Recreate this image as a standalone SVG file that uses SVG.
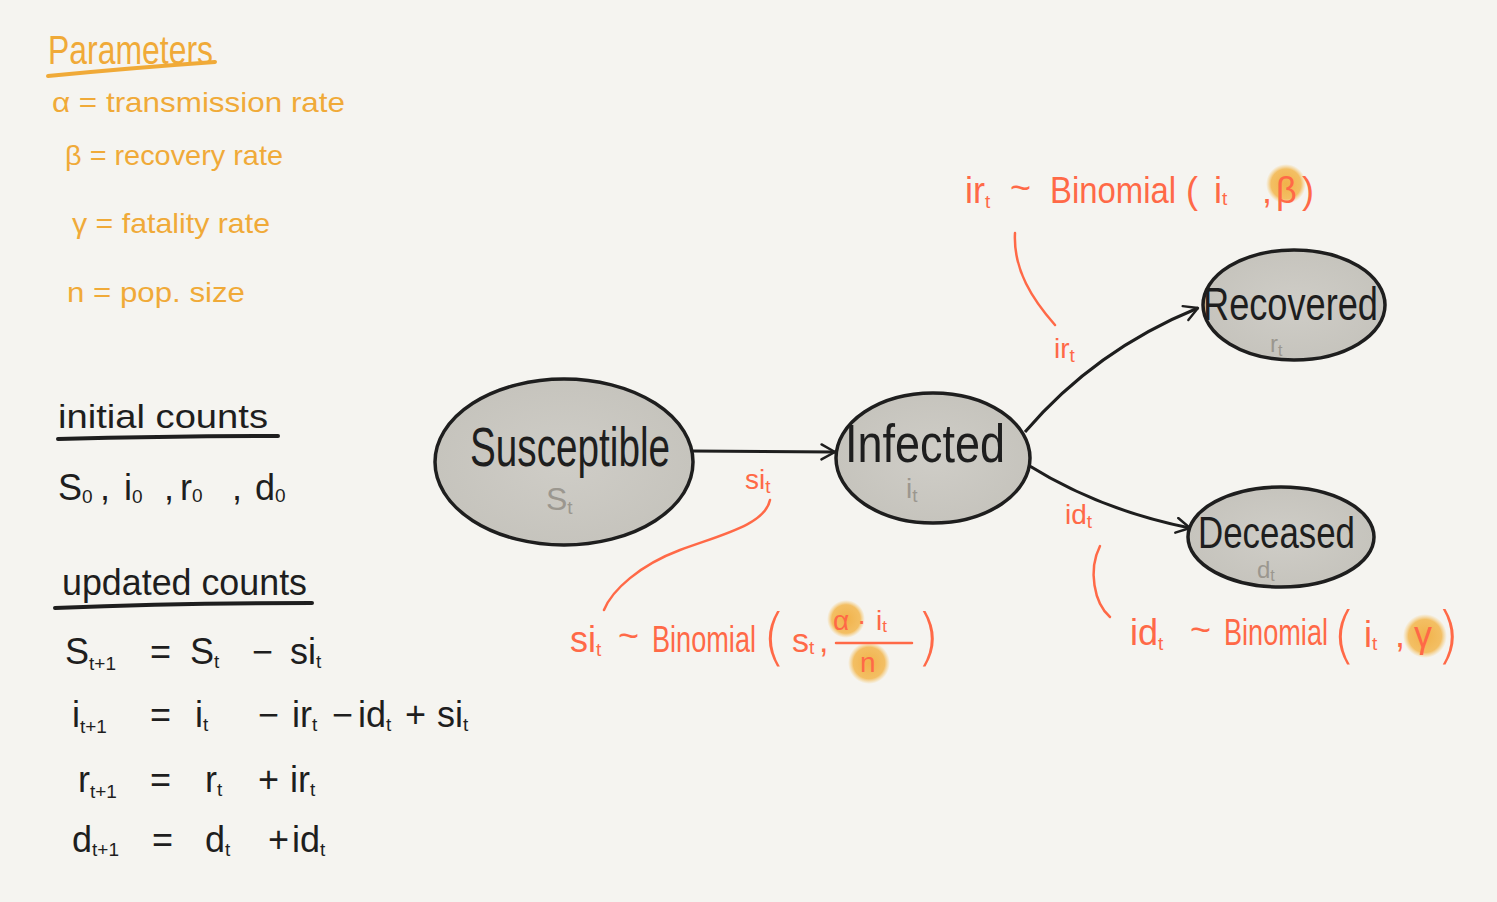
<svg xmlns="http://www.w3.org/2000/svg" width="1497" height="902" viewBox="0 0 1497 902">
<style>
.par{font-family:"Liberation Sans",Arial,sans-serif;fill:#f0aa38;font-size:28px}
.blk{font-family:"Liberation Sans",Arial,sans-serif;fill:#1e1e1e;font-size:36px}
.red{font-family:"Liberation Sans",Arial,sans-serif;fill:#ff6947;font-size:34px}
.par2{font-family:"DejaVu Sans","Liberation Sans",sans-serif;font-weight:200;fill:#ff6947;font-size:62px}
.sub{font-size:19px}
.lbl{font-family:"Liberation Sans",Arial,sans-serif;fill:#1e1e1e;font-size:52px}
.gry{font-family:"Liberation Sans",Arial,sans-serif;fill:#9b978f;font-size:32px}
.node{fill:url(#ng);stroke:#1e1e1e;stroke-width:3.5}
.edge{fill:none;stroke:#1e1e1e;stroke-width:3;marker-end:url(#ah)}
.lead{fill:none;stroke:#ff6947;stroke-width:2.5;stroke-linecap:round}
.uo{stroke:#f0aa38;stroke-width:4;stroke-linecap:round;fill:none}
.ub{stroke:#1e1e1e;stroke-width:4;stroke-linecap:round;fill:none}
.blob{fill:url(#bg)}
</style>
<defs>
<radialGradient id="ng" cx="0.5" cy="0.5" r="0.6">
<stop offset="0" stop-color="#cfcdc7"/><stop offset="1" stop-color="#c4c2bb"/>
</radialGradient>
<radialGradient id="bg" cx="0.5" cy="0.5" r="0.5">
<stop offset="0" stop-color="#f1b24a"/><stop offset="0.75" stop-color="#f3b954" stop-opacity="0.9"/><stop offset="1" stop-color="#f5c870" stop-opacity="0"/>
</radialGradient>
<marker id="ah" viewBox="0 0 12 12" refX="10" refY="6" markerWidth="18" markerHeight="18" orient="auto" markerUnits="userSpaceOnUse">
<path d="M1,1 L10,6 L1,11" fill="none" stroke="#1e1e1e" stroke-width="1.6" stroke-linecap="round" stroke-linejoin="round"/>
</marker>
</defs>
<rect width="1497" height="902" fill="#f5f4f0"/>

<g id="parameters">
<text class="par" x="48" y="64" style="font-size:40px" textLength="165" lengthAdjust="spacingAndGlyphs">Parameters</text>
<path class="uo" d="M48,76 Q130,68 215,62"/>
<text class="par" x="52" y="112" textLength="293" lengthAdjust="spacingAndGlyphs">α = transmission rate</text>
<text class="par" x="65" y="165" textLength="218" lengthAdjust="spacingAndGlyphs">β = recovery rate</text>
<text class="par" x="72" y="233" textLength="198" lengthAdjust="spacingAndGlyphs">γ = fatality rate</text>
<text class="par" x="67" y="302" textLength="178" lengthAdjust="spacingAndGlyphs">n = pop. size</text>
</g>

<g id="initial-counts">
<text class="blk" x="58" y="428" style="font-size:34px" textLength="210" lengthAdjust="spacingAndGlyphs">initial counts</text>
<path class="ub" d="M58,439 Q170,436 278,436"/>
<text class="blk" y="500"><tspan x="58">S</tspan><tspan class="sub" dy="3">0</tspan><tspan x="100" y="500">,</tspan><tspan x="124">i</tspan><tspan class="sub" dy="3">0</tspan><tspan x="164" y="500">,</tspan><tspan x="180">r</tspan><tspan class="sub" dy="2">0</tspan><tspan x="232" y="500">,</tspan><tspan x="255">d</tspan><tspan class="sub" dy="2">0</tspan></text>
</g>

<g id="updated-counts">
<text class="blk" x="62" y="595" style="font-size:36px" textLength="245" lengthAdjust="spacingAndGlyphs">updated counts</text>
<path class="ub" d="M55,608 Q180,603 312,603"/>
<text class="blk" y="664"><tspan x="65">S</tspan><tspan class="sub" dy="6">t+1</tspan><tspan x="150" y="664">=</tspan><tspan x="190">S</tspan><tspan class="sub" dy="4">t</tspan><tspan x="252" y="664">−</tspan><tspan x="290">si</tspan><tspan class="sub" dy="4">t</tspan></text>
<text class="blk" y="727"><tspan x="72">i</tspan><tspan class="sub" dy="6">t+1</tspan><tspan x="150" y="727">=</tspan><tspan x="195">i</tspan><tspan class="sub" dy="4">t</tspan><tspan x="258" y="727">−</tspan><tspan x="292">ir</tspan><tspan class="sub" dy="4">t</tspan><tspan x="332" y="727">−</tspan><tspan x="358">id</tspan><tspan class="sub" dy="4">t</tspan><tspan x="405" y="727">+</tspan><tspan x="437">si</tspan><tspan class="sub" dy="4">t</tspan></text>
<text class="blk" y="792"><tspan x="78">r</tspan><tspan class="sub" dy="6">t+1</tspan><tspan x="150" y="792">=</tspan><tspan x="205">r</tspan><tspan class="sub" dy="4">t</tspan><tspan x="258" y="792">+</tspan><tspan x="290">ir</tspan><tspan class="sub" dy="4">t</tspan></text>
<text class="blk" y="852"><tspan x="72">d</tspan><tspan class="sub" dy="4">t+1</tspan><tspan x="152" y="852">=</tspan><tspan x="205">d</tspan><tspan class="sub" dy="4">t</tspan><tspan x="268" y="852">+</tspan><tspan x="292">id</tspan><tspan class="sub" dy="4">t</tspan></text>
</g>

<g id="connectors">
<path class="edge" d="M692,451 L835,452"/>
<path class="edge" d="M1025,432 Q1095,350 1198,308"/>
<path class="edge" d="M1028,465 Q1100,510 1190,528"/>
<path class="lead" d="M770,500 C765,525 720,535 680,550 C640,565 612,590 604,610"/>
<path class="lead" d="M1015,233 C1013,270 1033,300 1055,325"/>
<path class="lead" d="M1100,546 C1088,570 1094,603 1110,617"/>
</g>

<g id="susceptible">
<ellipse class="node" cx="564" cy="462" rx="129" ry="83"/>
<text class="lbl" x="470" y="466" style="font-size:56px" textLength="200" lengthAdjust="spacingAndGlyphs">Susceptible</text>
<text class="gry" y="510"><tspan x="546">S</tspan><tspan class="sub" dy="4">t</tspan></text>
</g>

<g id="infected">
<ellipse class="node" cx="933" cy="458" rx="97" ry="65"/>
<text class="lbl" x="845" y="462" style="font-size:54px" textLength="160" lengthAdjust="spacingAndGlyphs">Infected</text>
<text class="gry" y="498" style="font-size:28px"><tspan x="906">i</tspan><tspan class="sub" dy="4">t</tspan></text>
</g>

<g id="recovered">
<ellipse class="node" cx="1294" cy="305" rx="91" ry="55"/>
<text class="lbl" x="1203" y="320" style="font-size:46px" textLength="175" lengthAdjust="spacingAndGlyphs">Recovered</text>
<text class="gry" y="352" style="font-size:24px"><tspan x="1270">r</tspan><tspan class="sub" dy="4" style="font-size:16px">t</tspan></text>
</g>

<g id="deceased">
<ellipse class="node" cx="1281" cy="537" rx="93" ry="50"/>
<text class="lbl" x="1198" y="548" style="font-size:44px" textLength="157" lengthAdjust="spacingAndGlyphs">Deceased</text>
<text class="gry" y="578" style="font-size:24px"><tspan x="1257">d</tspan><tspan class="sub" dy="3" style="font-size:16px">t</tspan></text>
</g>

<g id="label-si">
<text class="red" y="489" style="font-size:28px"><tspan x="745">si</tspan><tspan class="sub" dy="4">t</tspan></text>
</g>
<g id="label-ir">
<text class="red" y="358" style="font-size:28px"><tspan x="1054">ir</tspan><tspan class="sub" dy="4">t</tspan></text>
</g>
<g id="label-id">
<text class="red" y="524" style="font-size:28px"><tspan x="1065">id</tspan><tspan class="sub" dy="4">t</tspan></text>
</g>

<g id="formula-ir">
<circle class="blob" cx="1286" cy="184" r="20"/>
<text class="red" y="203" style="font-size:36px"><tspan x="965">ir</tspan><tspan class="sub" dy="5">t</tspan><tspan x="1010" y="200">~</tspan><tspan x="1050" y="203" textLength="126" lengthAdjust="spacingAndGlyphs">Binomial</tspan><tspan x="1186">(</tspan><tspan x="1214">i</tspan><tspan class="sub" dy="2">t</tspan><tspan x="1262" y="203">,</tspan><tspan x="1276">β</tspan><tspan x="1302">)</tspan></text>
</g>

<g id="formula-si">
<circle class="blob" cx="846" cy="619" r="19"/>
<circle class="blob" cx="869" cy="663" r="21"/>
<text class="red" y="652" style="font-size:36px"><tspan x="570">si</tspan><tspan class="sub" dy="4">t</tspan><tspan x="618" y="648">~</tspan><tspan x="652" y="652" textLength="104" lengthAdjust="spacingAndGlyphs">Binomial</tspan></text>
<text class="par2" x="762" y="658">(</text>
<text class="red" y="652" style="font-size:34px"><tspan x="792">s</tspan><tspan class="sub" dy="2">t</tspan><tspan x="819" y="652">,</tspan></text>
<text class="red" y="630" style="font-size:28px"><tspan x="833">α</tspan><tspan x="857">·</tspan><tspan x="876">i</tspan><tspan class="sub" dy="2" style="font-size:17px">t</tspan></text>
<path class="lead" d="M836,643 L912,643" stroke-width="3"/>
<text class="red" x="860" y="672" style="font-size:28px">n</text>
<text class="par2" x="916" y="658">)</text>
</g>

<g id="formula-id">
<circle class="blob" cx="1425" cy="636" r="22"/>
<text class="red" y="645" style="font-size:36px"><tspan x="1130">id</tspan><tspan class="sub" dy="5">t</tspan><tspan x="1190" y="642">~</tspan><tspan x="1224" y="645" textLength="104" lengthAdjust="spacingAndGlyphs">Binomial</tspan></text>
<text class="par2" x="1332" y="656">(</text>
<text class="red" y="647" style="font-size:36px"><tspan x="1364">i</tspan><tspan class="sub" dy="3">t</tspan><tspan x="1395" y="647">,</tspan><tspan x="1414">γ</tspan></text>
<text class="par2" x="1436" y="656">)</text>
</g>
</svg>
